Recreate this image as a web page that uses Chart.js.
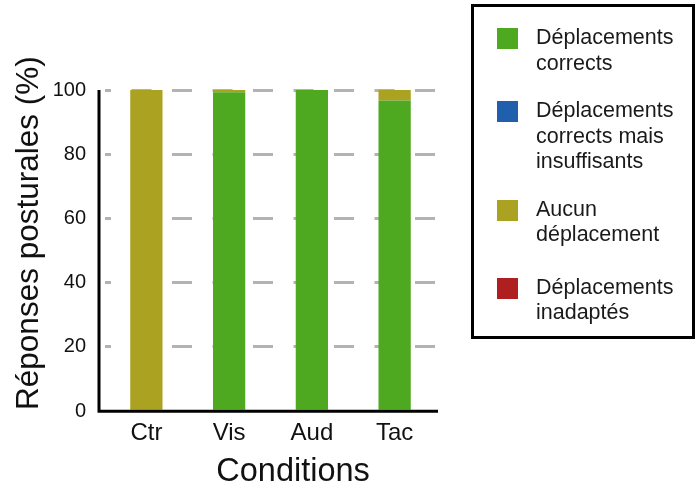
<!DOCTYPE html>
<html>
<head>
<meta charset="utf-8">
<script src="https://cdn.jsdelivr.net/npm/chart.js@4"></script>
<style>
  body { margin: 0; background: #fff; }
  #wrap { position: relative; width: 695px; height: 490px; }
  #legend {
    position: absolute; left: 471px; top: 4px; width: 224px; height: 335px;
    box-sizing: border-box; border: 3px solid #000; padding-top: 18px;
    font-family: 'Liberation Sans', Arial, sans-serif; font-size: 21.5px;
    line-height: 25.5px; color: #1a1a1a;
  }
  .item { display: flex; align-items: flex-start; margin-bottom: 22px; }
  .item:nth-child(3) { margin-bottom: 27px; }
  .sw { width: 21px; height: 21px; margin-left: 23px; margin-top: 3px; flex: none; }
  .txt { margin-left: 18px; }
</style>
</head>
<body>
<div id="wrap">
  <canvas id="chart" width="695" height="490"></canvas>
  <div id="legend"></div>
</div>
<script>
const conditions = ['Ctr', 'Vis', 'Aud', 'Tac'];
const seriesNames = [
  ['Déplacements', 'corrects'],
  ['Déplacements', 'corrects mais', 'insuffisants'],
  ['Aucun', 'déplacement'],
  ['Déplacements', 'inadaptés']
];
const seriesColors = ['#4fa920', '#1f5fad', '#aca221', '#b01f1f'];
const correct = [0, 99.3, 100, 96.7];
const insufficient = [0, 0, 0, 0];
const noMove = [100, 0.7, 0, 3.3];
const inadapted = [0, 0, 0, 0];
const yTicks = [0, 20, 40, 60, 80, 100];

const values = [correct, insufficient, noMove, inadapted];
const font = "'Liberation Sans', Arial, sans-serif";

// black axis lines, slightly left of the first category like the original
const axisLines = {
  id: 'axisLines',
  afterDatasetsDraw(chart) {
    const { ctx, chartArea } = chart;
    const y0 = chart.scales.y.getPixelForValue(0);
    ctx.save();
    ctx.strokeStyle = '#000';
    ctx.lineWidth = 3;
    ctx.beginPath();
    ctx.moveTo(chartArea.left - 6, chartArea.top);
    ctx.lineTo(chartArea.left - 6, y0);
    ctx.lineTo(chartArea.right + 2, y0);
    ctx.stroke();
    ctx.restore();
  }
};

new Chart(document.getElementById('chart'), {
  type: 'bar',
  data: {
    labels: conditions,
    datasets: values.map((v, i) => ({
      label: seriesNames[i].join(' '),
      data: v,
      backgroundColor: seriesColors[i],
      borderWidth: 0,
      barPercentage: 0.39,
      categoryPercentage: 1
    }))
  },
  options: {
    responsive: false,
    animation: false,
    layout: { padding: { left: 2, right: 259, top: 90, bottom: 0 } },
    plugins: { legend: { display: false }, tooltip: { enabled: false } },
    scales: {
      x: {
        stacked: true,
        grid: { display: false },
        border: { display: false },
        ticks: { color: '#111', font: { family: font, size: 24 }, padding: 0 },
        title: {
          display: true,
          // leading spaces push the title a bit right, as in the original
          text: '\u00a0\u00a0\u00a0\u00a0\u00a0Conditions',
          color: '#111',
          font: { family: font, size: 32.5 }, padding: { top: 5, bottom: -2 }
        }
      },
      y: {
        stacked: true,
        min: 0,
        max: 100,
        afterBuildTicks: (axis) => { axis.ticks = yTicks.map(v => ({ value: v })); },
        afterFit: (axis) => { axis.width = 103; },
        grid: {
          drawTicks: false,
          color: (c) => c.tick && c.tick.value === 0 ? 'rgba(0,0,0,0)' : '#b3b3b3',
          lineWidth: 3
        },
        border: { display: false, dash: [20, 20.5], dashOffset: 14 },
        ticks: { color: '#111', font: { family: font, size: 20 }, padding: 19 },
        title: {
          display: true,
          // leading spaces lift the title a little, as in the original
          text: '\u00a0\u00a0\u00a0\u00a0Réponses posturales (%)',
          color: '#111',
          font: { family: font, size: 31.5 }, padding: { top: 8, bottom: 0 }
        }
      }
    }
  },
  plugins: [axisLines]
});

// legend drawn as HTML so the labels can wrap on several lines
const legend = document.getElementById('legend');
seriesNames.forEach((lines, i) => {
  const item = document.createElement('div');
  item.className = 'item';
  const sw = document.createElement('div');
  sw.className = 'sw';
  sw.style.background = seriesColors[i];
  const txt = document.createElement('div');
  txt.className = 'txt';
  txt.innerHTML = lines.join('<br>');
  item.appendChild(sw);
  item.appendChild(txt);
  legend.appendChild(item);
});
</script>
</body>
</html>
